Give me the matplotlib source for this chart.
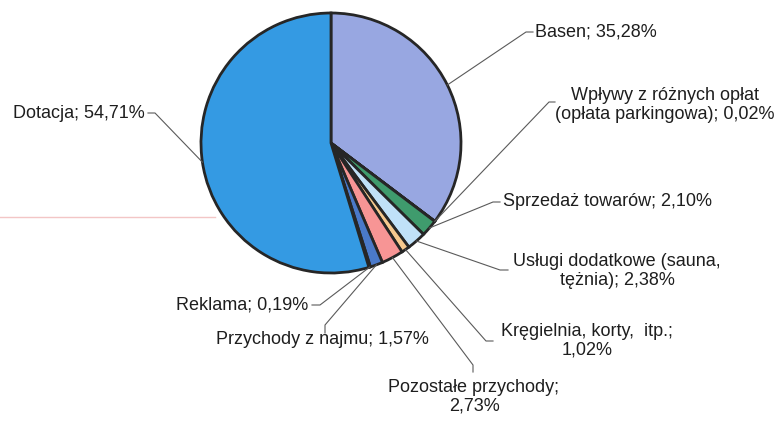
import numpy as np
import matplotlib
matplotlib.use('Agg')
import matplotlib.pyplot as plt

plt.rcParams['font.family'] = ['Liberation Sans', 'DejaVu Sans']

# data (clockwise from 12 o'clock)
labels = ['Basen; 35,28%',
          'Wpływy z różnych opłat\n(opłata parkingowa); 0,02%',
          'Sprzedaż towarów; 2,10%',
          'Usługi dodatkowe (sauna,\ntężnia); 2,38%',
          'Kręgielnia, korty,  itp.;\n1,02%',
          'Pozostałe przychody;\n2,73%',
          'Przychody z najmu; 1,57%',
          'Reklama; 0,19%',
          'Dotacja; 54,71%']
shares = [35.28, 0.02, 2.10, 2.38, 1.02, 2.73, 1.57, 0.19, 54.71]
colors = ['#98a7e1', '#c8c8c8', '#3f9b6d', '#c0e1f8', '#f6c98e',
          '#f79595', '#4a79c9', '#7a7a7a', '#349ae3']

W, H = 783, 422
def py(y):
    # pixel row -> data y (axes span whole figure)
    return H - y

# label placement: (text x, text y, ha, elbow point, tick end point) in pixels
label_pos = [
    (535, 32, 'left', (526, 32), (533, 32)),
    (665, 105, 'center', (549, 102), (555, 102)),
    (503, 202, 'left', (493, 202), (500, 202)),
    (617, 271, 'center', (500, 270), (508, 270)),
    (587, 341, 'center', (486, 341), (493, 341)),
    (474, 397, 'center', (473, 365), (473, 372)),
    (322, 340, 'center', (325, 325), (325, 333)),
    (308, 305, 'right', (320, 305), (312, 305)),
    (145, 113, 'right', (155, 113), (148, 113)),
]

cx, cy, r = 331, 143, 130

fig = plt.figure(figsize=(W / 100, H / 100), dpi=100)
ax = fig.add_axes([0, 0, 1, 1])
ax.set_xlim(0, W)
ax.set_ylim(0, H)
ax.set_aspect('equal')
ax.axis('off')

# faint scan artefact line at left
ax.plot([0, 215], [py(217), py(217)], color='#f3c6c6', lw=1, zorder=0)

wedges, _ = ax.pie(shares, colors=colors, startangle=90, counterclock=False,
                   center=(cx, py(cy)), radius=r, frame=True,
                   wedgeprops=dict(edgecolor='#262626', linewidth=2))
ax.set_xlim(0, W)
ax.set_ylim(0, H)
ax.axis('off')

for w, lab, (tx, ty, ha, elbow, tick) in zip(wedges, labels, label_pos):
    ang = np.deg2rad((w.theta1 + w.theta2) / 2)
    x0 = cx + r * np.cos(ang)
    y0 = py(cy) + r * np.sin(ang)
    ax.plot([x0, elbow[0], tick[0]], [y0, py(elbow[1]), py(tick[1])],
            color='#5a5a5a', lw=0.8, zorder=3)
    ax.text(tx, py(ty), lab, ha=ha, va='center', multialignment='center',
            fontsize=13, color='#1e1e1e', linespacing=1.15)

fig.savefig('out.png', dpi=100)
